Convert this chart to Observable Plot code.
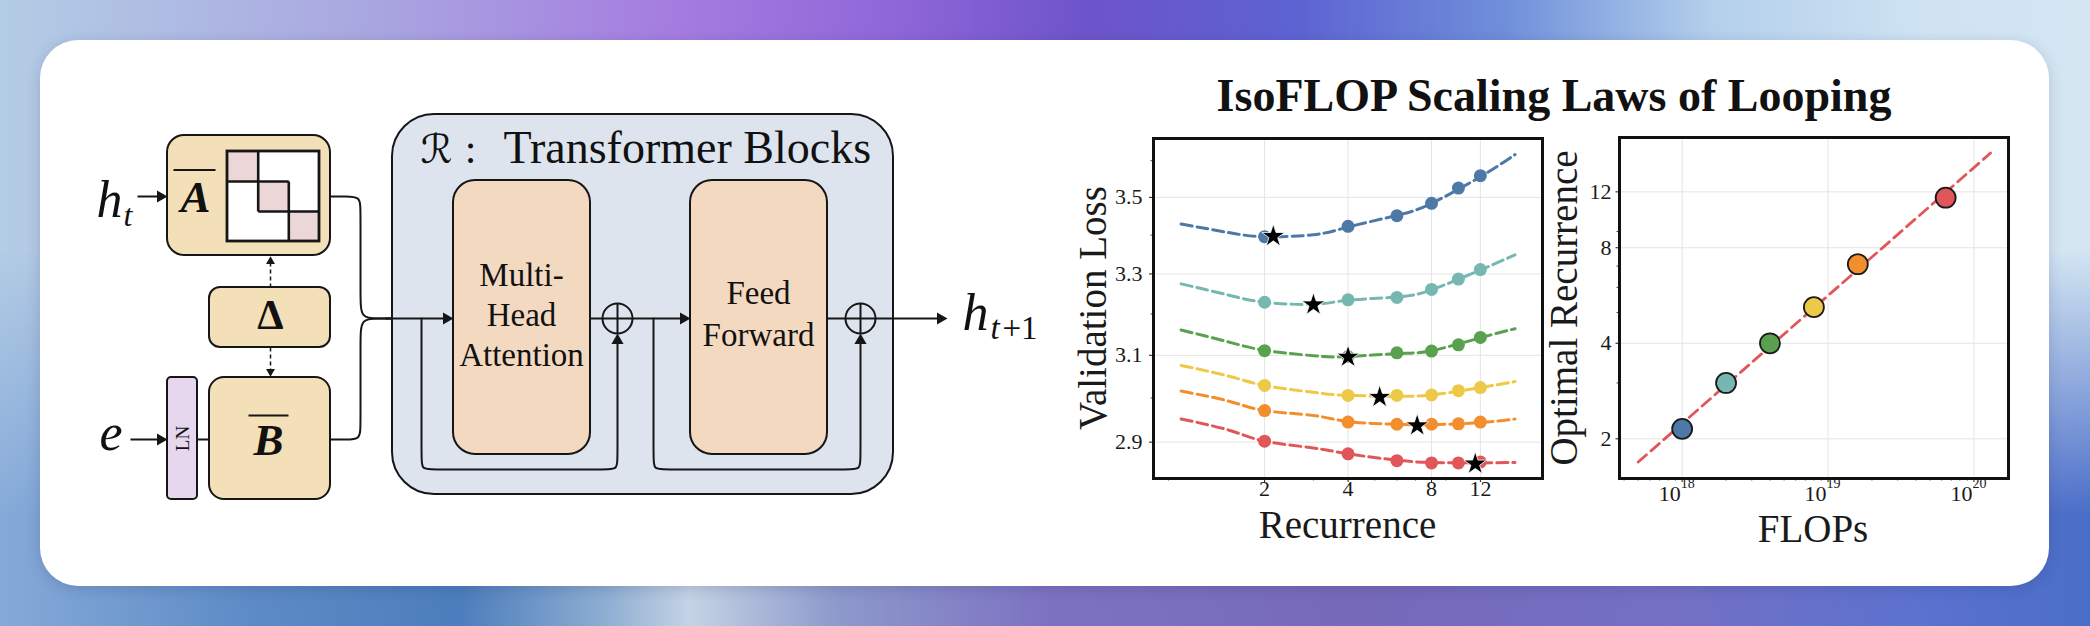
<!DOCTYPE html>
<html>
<head>
<meta charset="utf-8">
<script src="https://cdn.jsdelivr.net/npm/d3@7"></script>
<script src="https://cdn.jsdelivr.net/npm/@observablehq/plot@0.6"></script>
<style>
html, body { margin: 0; padding: 0; width: 2090px; height: 626px; overflow: hidden; background: #8fa8d8; }
#bg { position: absolute; left: 0; top: 0; width: 2090px; height: 626px;
  background: linear-gradient(90deg, #b3cde5 0%, #a9a6e0 18%, #a57de0 32%, #8f66d8 43%, #6d54ca 52%, #5d63d2 62%, #6f8fda 72%, #b4d0ec 82%, #cfe3f2 92%, #d4e6f2 100%); }
#bg2 { position: absolute; left: 0; top: 0; width: 2090px; height: 626px;
  background: linear-gradient(90deg, #86aad8 0%, #5d8bc6 12%, #4c7dbc 22%, #8eaed2 29%, #c5d3e5 33%, #8d9acb 40%, #7d72c2 50%, #7669ba 65%, #7470c4 80%, #5b72cf 92%, #4a6ec8 100%);
  -webkit-mask-image: linear-gradient(to bottom, transparent 40%, #000 82%);
  mask-image: linear-gradient(to bottom, transparent 40%, #000 82%); }
#card { position: absolute; left: 40px; top: 40px; width: 2009px; height: 546px; background: #fff; border-radius: 38px; box-shadow: 0 3px 14px rgba(40,40,90,0.18); }
.layer { position: absolute; }
#title { position: absolute; left: 1054px; width: 1000px; top: 73px; text-align: center; white-space: nowrap;
  font-family: "Liberation Serif", serif; font-weight: bold; font-size: 46px; line-height: 46px; color: #111; }
.axtitle { position: absolute; white-space: nowrap; font-family: "Liberation Serif", serif; font-size: 39px; line-height: 39px; color: #1a1a1a; }
.hx { width: 600px; text-align: center; }
.vy { width: 600px; text-align: center; transform: translate(-50%, -50%) rotate(-90deg); }
</style>
</head>
<body>
<div id="bg"></div>
<div id="bg2"></div>
<div id="card"></div>
<div id="diagram" class="layer" style="left:0px;top:0px;width:1100px;height:626px;"></div>
<div id="title">IsoFLOP Scaling Laws of Looping</div>
<div class="axtitle hx" style="left:1047.5px;top:505px;">Recurrence</div>
<div class="axtitle hx" style="left:1513px;top:509px;">FLOPs</div>
<div class="axtitle vy" style="left:1091.5px;top:307.5px;">Validation Loss</div>
<div class="axtitle vy" style="left:1563px;top:307.5px;">Optimal Recurrence</div>
<div id="left" class="layer" style="left:1040px;top:120px;width:510px;height:440px;"></div>
<div id="right" class="layer" style="left:1540px;top:120px;width:520px;height:440px;"></div>
<script>
// ---------------- DATA ----------------
const seriesColors = ["#4e79a7", "#76b7b2", "#59a14f", "#edc948", "#f28e2b", "#e15759"];
const runRecurrence = [2, 4, 6, 8, 10, 12];
const lossBlue   = [3.396, 3.423, 3.451, 3.484, 3.525, 3.559];
const lossTeal   = [3.229, 3.235, 3.241, 3.261, 3.287, 3.311];
const lossGreen  = [3.111, 3.097, 3.106, 3.110, 3.125, 3.143];
const lossYellow = [3.029, 3.006, 3.006, 3.007, 3.017, 3.024];
const lossOrange = [2.971, 2.945, 2.940, 2.940, 2.941, 2.945];
const lossRed    = [2.902, 2.874, 2.859, 2.854, 2.854, 2.856];

const fitRecurrence = [1, 1.5, 2, 3, 4, 6, 8, 12, 16];
const fitBlue   = [3.429, 3.406, 3.396, 3.401, 3.421, 3.452, 3.484, 3.556, 3.617];
const fitTeal   = [3.275, 3.246, 3.229, 3.224, 3.234, 3.242, 3.260, 3.310, 3.349];
const fitGreen  = [3.161, 3.131, 3.112, 3.099, 3.097, 3.104, 3.111, 3.142, 3.164];
const fitYellow = [3.076, 3.050, 3.029, 3.013, 3.006, 3.004, 3.007, 3.024, 3.038];
const fitOrange = [3.016, 2.992, 2.971, 2.960, 2.946, 2.940, 2.939, 2.944, 2.952];
const fitRed    = [2.952, 2.926, 2.902, 2.887, 2.874, 2.860, 2.855, 2.854, 2.855];

const optRecurrence = [2.15, 3.0, 4.0, 5.2, 7.1, 11.5];
const optLoss       = [3.397, 3.223, 3.096, 3.002, 2.937, 2.852];
const flops         = [1e18, 2e18, 4e18, 8e18, 1.6e19, 6.4e19];
const lawFlops      = [5e17, 1.3e20];
const lawRecurrence = [1.69, 15.9];

const lossTicks = [2.9, 3.1, 3.3, 3.5];
const lossMinorTicks = [3.0, 3.2, 3.4, 3.6];
const recurrenceTicks = [2, 4, 8, 12];
const recurrenceMinorTicks = [0.9, 3, 5, 6, 7, 9];
const optTicks = [2, 4, 8, 12];
const optMinorTicks = [3, 5, 6, 7, 9];
const flopTicks = [1e18, 1e19, 1e20];
const flopMinorTicks = [4e17, 5e17, 6e17, 7e17, 8e17, 9e17, 2e18, 3e18, 4e18, 5e18, 6e18, 7e18, 8e18, 9e18,
                        2e19, 3e19, 4e19, 5e19, 6e19, 7e19, 8e19, 9e19];

// ---------------- tables ----------------
const lossSeries = [lossBlue, lossTeal, lossGreen, lossYellow, lossOrange, lossRed];
const fitSeries = [fitBlue, fitTeal, fitGreen, fitYellow, fitOrange, fitRed];
const runPoints = lossSeries.flatMap((vals, i) => runRecurrence.map((r, j) => ({s: i, color: seriesColors[i], x: r, y: vals[j]})));
const fitPoints = fitSeries.flatMap((vals, i) => fitRecurrence.map((r, j) => ({s: i, color: seriesColors[i], x: r, y: vals[j]})));
const optPoints = optRecurrence.map((r, i) => ({x: r, y: optLoss[i], flops: flops[i], color: seriesColors[i]}));
const lawPoints = lawFlops.map((f, i) => ({x: f, y: lawRecurrence[i]}));

const serif = "Liberation Serif, Times New Roman, serif";
const gridStyle = {stroke: "#e4e4e4", strokeOpacity: 1, strokeWidth: 1};

// ---------------- left chart ----------------
const left = Plot.plot({
  width: 510, height: 440,
  marginLeft: 113, marginRight: 8, marginTop: 18, marginBottom: 82,
  style: {background: "transparent", overflow: "visible", fontFamily: serif, color: "#1a1a1a"},
  x: {type: "log", domain: [0.795, 20.1]},
  y: {type: "log", domain: [2.820, 3.662]},
  color: {type: "identity"},
  marks: [
    Plot.gridX(recurrenceTicks, gridStyle),
    Plot.gridY(lossTicks, gridStyle),
    Plot.axisX(recurrenceMinorTicks, {tickSize: 2.5, text: null, label: null, strokeWidth: 0.8}),
    Plot.axisY(lossMinorTicks, {tickSize: 2.5, text: null, label: null, strokeWidth: 0.8}),
    Plot.axisX(recurrenceTicks, {tickSize: 4, text: null, label: null}),
    Plot.text(recurrenceTicks, {x: d => d, frameAnchor: "bottom", text: d => String(d), dy: 17, fontSize: 22}),
    Plot.axisY(lossTicks, {tickSize: 4, tickPadding: 7, fontSize: 22, tickFormat: d => d.toFixed(1), label: null}),
    Plot.line(fitPoints, {x: "x", y: "y", z: "s", stroke: "color", strokeWidth: 3, strokeDasharray: "11,5", curve: "natural"}),
    Plot.dot(runPoints, {x: "x", y: "y", r: 6.5, fill: "color"}),
    Plot.dot(optPoints, {x: "x", y: "y", symbol: "star", r: 7.2, fill: "#000", stroke: "#fff", strokeWidth: 0.8}),
    Plot.frame({stroke: "#111", strokeWidth: 3})
  ]
});
document.getElementById("left").appendChild(left);

// ---------------- right chart ----------------
const right = Plot.plot({
  width: 520, height: 440,
  marginLeft: 79, marginRight: 52, marginTop: 17, marginBottom: 82,
  style: {background: "transparent", overflow: "visible", fontFamily: serif, color: "#1a1a1a"},
  x: {type: "log", domain: [3.72e17, 1.726e20]},
  y: {type: "log", domain: [1.5, 17.8]},
  color: {type: "identity"},
  marks: [
    Plot.gridX(flopTicks, gridStyle),
    Plot.gridY(optTicks, gridStyle),
    Plot.axisX(flopMinorTicks, {tickSize: 2.5, text: null, label: null, strokeWidth: 0.8}),
    Plot.axisY(optMinorTicks, {tickSize: 2.5, text: null, label: null, strokeWidth: 0.8}),
    Plot.axisX(flopTicks, {tickSize: 4, text: null, label: null}),
    Plot.axisY(optTicks, {tickSize: 3.5, tickPadding: 4.5, fontSize: 22, tickFormat: d => String(d), label: null}),
    Plot.text(flopTicks, {x: d => d, frameAnchor: "bottom", text: () => "10", textAnchor: "end", dx: -1.5, dy: 22, fontSize: 22}),
    Plot.text(flopTicks, {x: d => d, frameAnchor: "bottom", text: d => String(Math.round(Math.log10(d))), textAnchor: "start", dx: -1.5, dy: 9, fontSize: 14}),
    Plot.line(lawPoints, {x: "x", y: "y", stroke: "#e15759", strokeWidth: 2.8, strokeDasharray: "11,6"}),
    Plot.dot(optPoints, {x: "flops", y: "x", r: 10, fill: "color", stroke: "#1a1a1a", strokeWidth: 1.8}),
    Plot.frame({stroke: "#111", strokeWidth: 3})
  ]
});
document.getElementById("right").appendChild(right);

// ---------------- architecture diagram (layout in page pixels) ----------------
const ink = "#161616";
const boxes = [
  {x1: 392, x2: 893, y1: 114, y2: 494, rx: 42, fill: "#dde4ee"},
  {x1: 453, x2: 590, y1: 180, y2: 454, rx: 22, fill: "#f4d9c1"},
  {x1: 690, x2: 827, y1: 180, y2: 454, rx: 22, fill: "#f4d9c1"},
  {x1: 167, x2: 330, y1: 135, y2: 255, rx: 17, fill: "#f3e0b8"},
  {x1: 209, x2: 330, y1: 287, y2: 347, rx: 11, fill: "#f3e0b8"},
  {x1: 209, x2: 330, y1: 377, y2: 499, rx: 15, fill: "#f3e0b8"},
  {x1: 167, x2: 197, y1: 377, y2: 499, rx: 4, fill: "#e7d7ee"}
];
const matrixBox = {x1: 227, x2: 319, y1: 151, y2: 241};
const matrixCells = [
  {x1: 227, x2: 257.7, y1: 151, y2: 181},
  {x1: 257.7, x2: 288.3, y1: 181, y2: 211},
  {x1: 288.3, x2: 319, y1: 211, y2: 241}
];
const matrixLines = [
  {x1: 257.7, y1: 151, x2: 257.7, y2: 211},
  {x1: 227, y1: 181, x2: 288.3, y2: 181},
  {x1: 288.3, y1: 181, x2: 288.3, y2: 241},
  {x1: 257.7, y1: 211, x2: 319, y2: 211}
];
const wires = [
  {x1: 137, y1: 196, x2: 162, y2: 196},
  {x1: 130, y1: 439, x2: 162, y2: 439},
  {x1: 197, y1: 439, x2: 209, y2: 439},
  {x1: 385, y1: 318, x2: 448, y2: 318},
  {x1: 590, y1: 318, x2: 632, y2: 318},
  {x1: 632, y1: 318, x2: 685, y2: 318},
  {x1: 827, y1: 318, x2: 875, y2: 318},
  {x1: 875, y1: 318, x2: 942, y2: 318},
  {x1: 617, y1: 303, x2: 617, y2: 333},
  {x1: 860, y1: 303, x2: 860, y2: 333},
  {x1: 173, y1: 169.5, x2: 215, y2: 169.5},
  {x1: 248, y1: 415, x2: 288, y2: 415}
];
const wireA = [[330, 196], [345, 196], [360, 196], [360, 210], [360, 296], [360, 318], [378, 318], [390, 318]];
const wireB = [[330, 439], [345, 439], [360, 439], [360, 425], [360, 340], [360, 318], [378, 318], [390, 318]];
const dashedWires = [
  {x1: 270, y1: 287, x2: 270, y2: 260},
  {x1: 270, y1: 347, x2: 270, y2: 372}
];
const loop1 = [[421, 318], [421, 457], [421, 469], [433, 469], [605, 469], [617, 469], [617, 457], [617, 338]];
const loop2 = [[653, 318], [653, 457], [653, 469], [665, 469], [848, 469], [860, 469], [860, 457], [860, 338]];
const sums = [{x: 617, y: 318}, {x: 860, y: 318}];
const heads = [
  {x: 160, y: 196, rotate: 90}, {x: 160, y: 439, rotate: 90}, {x: 446, y: 318, rotate: 90},
  {x: 683, y: 318, rotate: 90}, {x: 940, y: 318, rotate: 90},
  {x: 617, y: 340, rotate: 0}, {x: 860, y: 340, rotate: 0}
];
const smallHeads = [{x: 270, y: 261, rotate: 0}, {x: 270, y: 371, rotate: 180}];
const labels = [
  {t: "ℛ", x: 436, y: 150, size: 40, anchor: "middle", family: "DejaVu Serif, DejaVu Sans, serif"},
  {t: ":", x: 470, y: 149, size: 42, anchor: "middle"},
  {t: "Transformer Blocks", x: 503, y: 148, size: 46, anchor: "start"},
  {t: "Multi-", x: 521, y: 275, size: 33, anchor: "middle"},
  {t: "Head", x: 521, y: 314.5, size: 33, anchor: "middle"},
  {t: "Attention", x: 521, y: 354.5, size: 33, anchor: "middle"},
  {t: "Feed", x: 758, y: 293, size: 33, anchor: "middle"},
  {t: "Forward", x: 758, y: 334.5, size: 33, anchor: "middle"},
  {t: "A", x: 195, y: 197.5, size: 45, anchor: "middle", style: "italic", weight: "bold"},
  {t: "Δ", x: 270, y: 315.5, size: 42, anchor: "middle", weight: "bold"},
  {t: "B", x: 268, y: 440.5, size: 45, anchor: "middle", style: "italic", weight: "bold"},
  {t: "LN", x: 182, y: 438, size: 19, anchor: "middle", rotate: -90},
  {t: "h", x: 96, y: 199.5, size: 52, anchor: "start", style: "italic"},
  {t: "t", x: 123, y: 215.5, size: 32, anchor: "start", style: "italic"},
  {t: "e", x: 99, y: 432.5, size: 52, anchor: "start", style: "italic"},
  {t: "h", x: 962, y: 312.5, size: 52, anchor: "start", style: "italic"},
  {t: "t", x: 990, y: 328, size: 33, anchor: "start", style: "italic"},
  {t: "+1", x: 1002, y: 328, size: 33, anchor: "start"}
];

const dia = Plot.plot({
  width: 1100, height: 626, margin: 0,
  x: {type: "identity", axis: null},
  y: {type: "identity", axis: null},
  style: {background: "transparent", overflow: "visible", fontFamily: serif},
  marks: [
    ...boxes.map(b => Plot.rect([b], {x1: "x1", x2: "x2", y1: "y1", y2: "y2", rx: b.rx, fill: b.fill, stroke: ink, strokeWidth: 2})),
    Plot.rect([matrixBox], {x1: "x1", x2: "x2", y1: "y1", y2: "y2", fill: "#fff"}),
    Plot.rect(matrixCells, {x1: "x1", x2: "x2", y1: "y1", y2: "y2", fill: "#ecd6d7"}),
    Plot.link(matrixLines, {x1: "x1", y1: "y1", x2: "x2", y2: "y2", stroke: ink, strokeWidth: 2.6}),
    Plot.rect([matrixBox], {x1: "x1", x2: "x2", y1: "y1", y2: "y2", fill: "none", stroke: ink, strokeWidth: 2.8}),
    Plot.line(wireA, {x: d => d[0], y: d => d[1], curve: "basis", stroke: ink, strokeWidth: 2}),
    Plot.line(wireB, {x: d => d[0], y: d => d[1], curve: "basis", stroke: ink, strokeWidth: 2}),
    Plot.line(loop1, {x: d => d[0], y: d => d[1], curve: "basis", stroke: ink, strokeWidth: 2}),
    Plot.line(loop2, {x: d => d[0], y: d => d[1], curve: "basis", stroke: ink, strokeWidth: 2}),
    Plot.dot(sums, {x: "x", y: "y", r: 15, fill: "#dde4ee", stroke: ink, strokeWidth: 2}),
    Plot.link(wires, {x1: "x1", y1: "y1", x2: "x2", y2: "y2", stroke: ink, strokeWidth: 2}),
    Plot.link(dashedWires, {x1: "x1", y1: "y1", x2: "x2", y2: "y2", stroke: ink, strokeWidth: 1.5, strokeDasharray: "4,3"}),
    Plot.dot(heads, {x: "x", y: "y", rotate: "rotate", symbol: "triangle", r: 4.5, fill: ink}),
    Plot.dot(smallHeads, {x: "x", y: "y", rotate: "rotate", symbol: "triangle", r: 3.3, fill: ink}),
    ...labels.map(l => Plot.text([l], {
      x: "x", y: "y", text: "t", fontSize: l.size, textAnchor: l.anchor,
      fontStyle: l.style || "normal", fontWeight: l.weight || "normal",
      fontFamily: l.family || serif, rotate: l.rotate || 0, fill: "#111"
    }))
  ]
});
document.getElementById("diagram").appendChild(dia);
</script>
</body>
</html>
